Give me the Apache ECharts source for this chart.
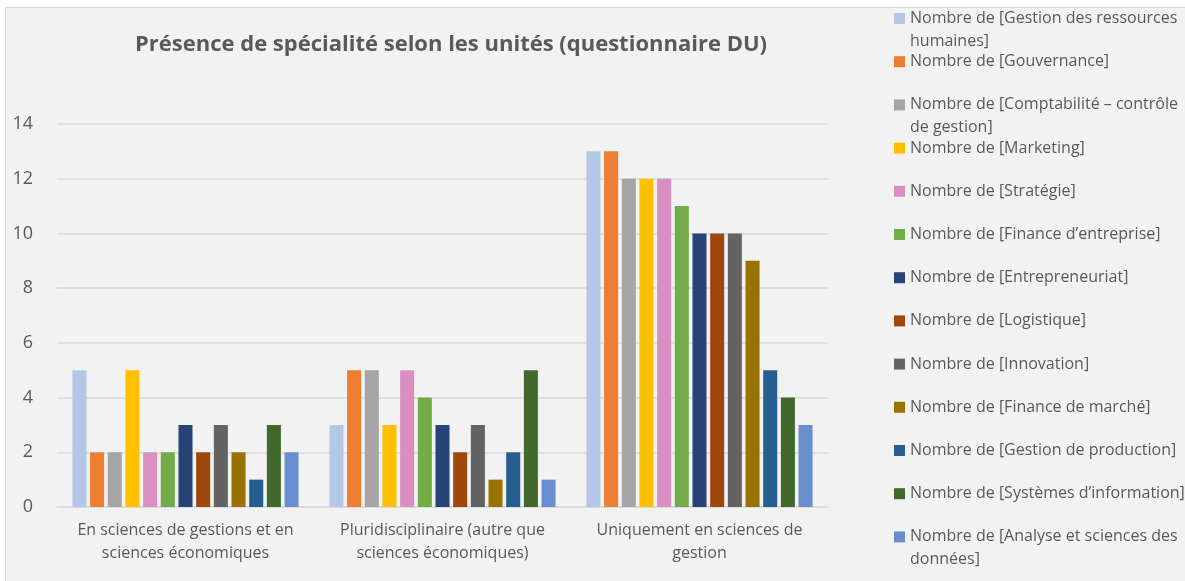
<!DOCTYPE html>
<html>
<head>
<meta charset="utf-8">
<script src="https://cdn.jsdelivr.net/npm/echarts@6/dist/echarts.min.js"></script>
<style>
  html, body { margin:0; padding:0; background:#ffffff; width:1185px; height:581px; overflow:hidden; }
  #frame { position:absolute; left:5px; top:7px; width:1180px; height:574px; background:#f2f2f2;
           border-left:1px solid #d9d9d9; border-top:1px solid #d9d9d9; box-sizing:border-box; }
  #chart { position:absolute; left:0; top:0; width:1185px; height:581px; }
</style>
</head>
<body>
<div id="frame"></div>
<div id="chart"></div>
<script>
const titleText = "Présence de spécialité selon les unités (questionnaire DU)";
const categories = [
  "En sciences de gestions et en\nsciences économiques",
  "Pluridisciplinaire (autre que\nsciences économiques)",
  "Uniquement en sciences de\ngestion"
];
const seriesNames = [
  "Nombre de [Gestion des ressources humaines]",
  "Nombre de [Gouvernance]",
  "Nombre de [Comptabilité – contrôle de gestion]",
  "Nombre de [Marketing]",
  "Nombre de [Stratégie]",
  "Nombre de [Finance d’entreprise]",
  "Nombre de [Entrepreneuriat]",
  "Nombre de [Logistique]",
  "Nombre de [Innovation]",
  "Nombre de [Finance de marché]",
  "Nombre de [Gestion de production]",
  "Nombre de [Systèmes d’information]",
  "Nombre de [Analyse et sciences des données]"
];
const legendLabels = [
  "Nombre de [Gestion des ressources\nhumaines]",
  "Nombre de [Gouvernance]",
  "Nombre de [Comptabilité – contrôle\nde gestion]",
  "Nombre de [Marketing]",
  "Nombre de [Stratégie]",
  "Nombre de [Finance d’entreprise]",
  "Nombre de [Entrepreneuriat]",
  "Nombre de [Logistique]",
  "Nombre de [Innovation]",
  "Nombre de [Finance de marché]",
  "Nombre de [Gestion de production]",
  "Nombre de [Systèmes d’information]",
  "Nombre de [Analyse et sciences des\ndonnées]"
];
// values per category, in series order
const enSciencesGestionEco = [5, 2, 2, 5, 2, 2, 3, 2, 3, 2, 1, 3, 2];
const pluridisciplinaire   = [3, 5, 5, 3, 5, 4, 3, 2, 3, 1, 2, 5, 1];
const uniquementGestion    = [13, 13, 12, 12, 12, 11, 10, 10, 10, 9, 5, 4, 3];
const yTicks = [0, 2, 4, 6, 8, 10, 12, 14];

const colors = ["#B4C7E7", "#ED7D31", "#A5A5A5", "#FFC000", "#DB8FC1", "#70AD47",
                "#264478", "#9E480E", "#636363", "#997300", "#255E91", "#43682B", "#698ED0"];

const FONT = "'Open Sans', Lato, sans-serif";
const TXT = "#595959";

const series = seriesNames.map((name, i) => ({
  name: name,
  type: 'bar',
  data: [enSciencesGestionEco[i], pluridisciplinaire[i], uniquementGestion[i]],
  itemStyle: { color: colors[i] },
  barGap: '26%',
  barCategoryGap: '12%'
}));

const LH = 23;
const legends = seriesNames.map((name, i) => {
  const twoLines = legendLabels[i].indexOf('\n') >= 0;
  const iconCenter = 18.5 + 43.2 * i;
  return {
    data: [name],
    left: 894,
    top: iconCenter - LH / 2,
    padding: 0,
    itemWidth: 11,
    itemHeight: twoLines ? 11 + LH : 11,
    icon: twoLines ? 'path://M0,0L11,0L11,11L0,11Z M0,34L0,34' : 'rect',
    selectedMode: false,
    formatter: () => legendLabels[i],
    textStyle: { color: TXT, fontFamily: FONT, fontSize: 16, lineHeight: LH }
  };
});

const chart = echarts.init(document.getElementById('chart'), null, { renderer: 'canvas' });
chart.setOption({
  backgroundColor: 'transparent',
  animation: false,
  color: colors,
  graphic: [{
    type: 'text', x: 451, y: 45,
    style: { text: titleText, align: 'center', verticalAlign: 'middle',
             fill: TXT, font: "bold 22px " + FONT }
  }],
  legend: legends,
  grid: { left: 57, right: 357, top: 124, bottom: 74, containLabel: false },
  xAxis: {
    type: 'category',
    data: categories,
    axisLine: { show: true, lineStyle: { color: '#d9d9d9', width: 1.5 } },
    axisTick: { show: false },
    axisLabel: { color: TXT, fontFamily: FONT, fontSize: 16, lineHeight: 23, margin: 12, interval: 0 }
  },
  yAxis: {
    type: 'value',
    min: yTicks[0],
    max: yTicks[yTicks.length - 1],
    interval: yTicks[1] - yTicks[0],
    axisLine: { show: false },
    axisTick: { show: false },
    splitLine: { lineStyle: { color: '#d9d9d9', width: 1.5 } },
    axisLabel: { color: TXT, fontFamily: FONT, fontSize: 18, margin: 24 }
  },
  series: series
});
</script>
</body>
</html>
